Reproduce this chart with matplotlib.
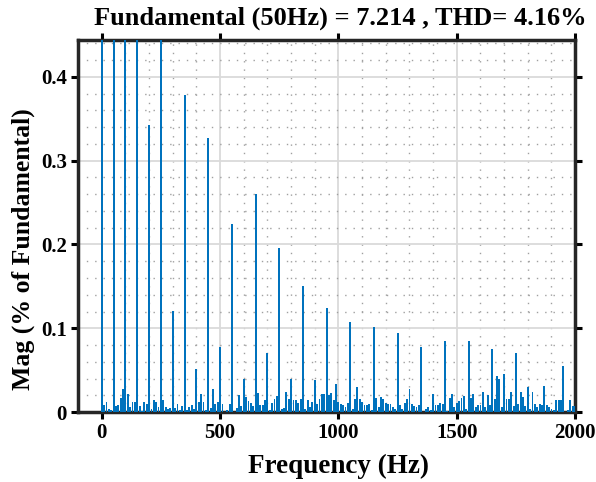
import numpy as np
import matplotlib
matplotlib.use("Agg")
import matplotlib.pyplot as plt
from matplotlib.ticker import MultipleLocator

plt.rcParams['font.family'] = ['Liberation Serif', 'DejaVu Serif']
plt.rcParams['font.weight'] = 'bold'

# harmonic magnitudes at 0, 50, 100, ... 2000 Hz (% of fundamental)
harm_mag = [1.2, 100.0, 0.8, 0.9, 0.343, 0.6, 0.121, 0.378, 0.052, 0.327,
            0.078, 0.225, 0.039, 0.260, 0.071, 0.196, 0.039, 0.151, 0.038, 0.124,
            0.012, 0.108, 0.012, 0.101, 0.011, 0.094, 0.027, 0.078, 0.022, 0.085,
            0.011, 0.085, 0.008, 0.075, 0.046, 0.070, 0.030, 0.010, 0.004, 0.055,
            0.007]

# bins in between (f+10, f+20, f+30, f+40) for each 50 Hz block
inter_mag = [
    [0.008, 0.012, 0.004, 0.002], [0.007, 0.009, 0.017, 0.027],
    [0.022, 0.006, 0.012, 0.012], [0.007, 0.001, 0.012, 0.010],
    [0.004, 0.015, 0.012, 0.006], [0.014, 0.006, 0.004, 0.005],
    [0.005, 0.010, 0.003, 0.007], [0.003, 0.006, 0.008, 0.004],
    [0.012, 0.022, 0.012, 0.003], [0.005, 0.028, 0.010, 0.012],
    [0.010, 0.000, 0.003, 0.010], [0.000, 0.005, 0.020, 0.007],
    [0.018, 0.013, 0.011, 0.007], [0.023, 0.008, 0.008, 0.014],
    [0.002, 0.011, 0.016, 0.019], [0.004, 0.005, 0.024, 0.016],
    [0.014, 0.015, 0.011, 0.016], [0.004, 0.015, 0.006, 0.012],
    [0.010, 0.016, 0.022, 0.022], [0.020, 0.023, 0.015, 0.034],
    [0.010, 0.009, 0.006, 0.011], [0.004, 0.016, 0.030, 0.016],
    [0.009, 0.009, 0.010, 0.002], [0.017, 0.006, 0.018, 0.016],
    [0.010, 0.010, 0.006, 0.004], [0.009, 0.004, 0.011, 0.016],
    [0.010, 0.007, 0.006, 0.009], [0.000, 0.004, 0.006, 0.002],
    [0.009, 0.008, 0.011, 0.010], [0.001, 0.017, 0.022, 0.006],
    [0.013, 0.017, 0.019, 0.004], [0.017, 0.022, 0.006, 0.008],
    [0.024, 0.006, 0.021, 0.008], [0.016, 0.043, 0.039, 0.006],
    [0.016, 0.016, 0.024, 0.007], [0.010, 0.024, 0.018, 0.007],
    [0.004, 0.024, 0.010, 0.006], [0.008, 0.031, 0.008, 0.006],
    [0.002, 0.014, 0.015, 0.014], [0.000, 0.002, 0.014, 0.007],
]

title = 'Fundamental (50Hz) = 7.214 , THD= 4.16%'

# build the spectrum (10 Hz bins)
mag = []
for i, h in enumerate(harm_mag):
    mag.append(h)
    if i < len(inter_mag):
        mag.extend(inter_mag[i])
freq = np.arange(len(mag)) * 10

fig = plt.figure(figsize=(5.96, 4.82), dpi=100)
ax = fig.add_axes([0.131, 0.145, 0.834, 0.772])

ax.bar(freq, mag, width=8, color='#0072BD', linewidth=0, zorder=3)

ax.set_xlim(-100, 2000)
ax.set_ylim(0, 0.444)
ax.xaxis.set_major_locator(MultipleLocator(500))
ax.xaxis.set_minor_locator(MultipleLocator(100))
ax.yaxis.set_major_locator(MultipleLocator(0.1))
ax.yaxis.set_minor_locator(MultipleLocator(0.02))
ax.set_yticks([0, 0.1, 0.2, 0.3, 0.4])
ax.set_yticklabels(['0', '0.1', '0.2', '0.3', '0.4'])

ax.grid(True, which='major', color='#dadada', linewidth=1.3, zorder=0)
ax.grid(True, which='minor', color='#a0a0a0', linestyle=(0, (1, 5)), linewidth=1.0, zorder=0)
ax.set_axisbelow(True)

ax.tick_params(which='major', direction='out', length=5, width=2.2, top=True, right=True,
               labelsize=15, pad=3)
ax.tick_params(which='minor', length=0)
for s in ax.spines.values():
    s.set_linewidth(2.5)
    s.set_color('#262626')

ax.set_title(title, fontsize=19, fontweight='bold', x=0.527, pad=11)
ax.set_xlabel('Frequency (Hz)', fontsize=19.5, fontweight='bold')
ax.set_ylabel('Mag (% of Fundamental)', fontsize=18.5, fontweight='bold')
ax.xaxis.set_label_coords(0.523, -0.145)
ax.yaxis.set_label_coords(-0.111, 0.438)
ax.xaxis.label.set_va('center')
ax.yaxis.label.set_va('center')

fig.savefig('out.png', dpi=100)
